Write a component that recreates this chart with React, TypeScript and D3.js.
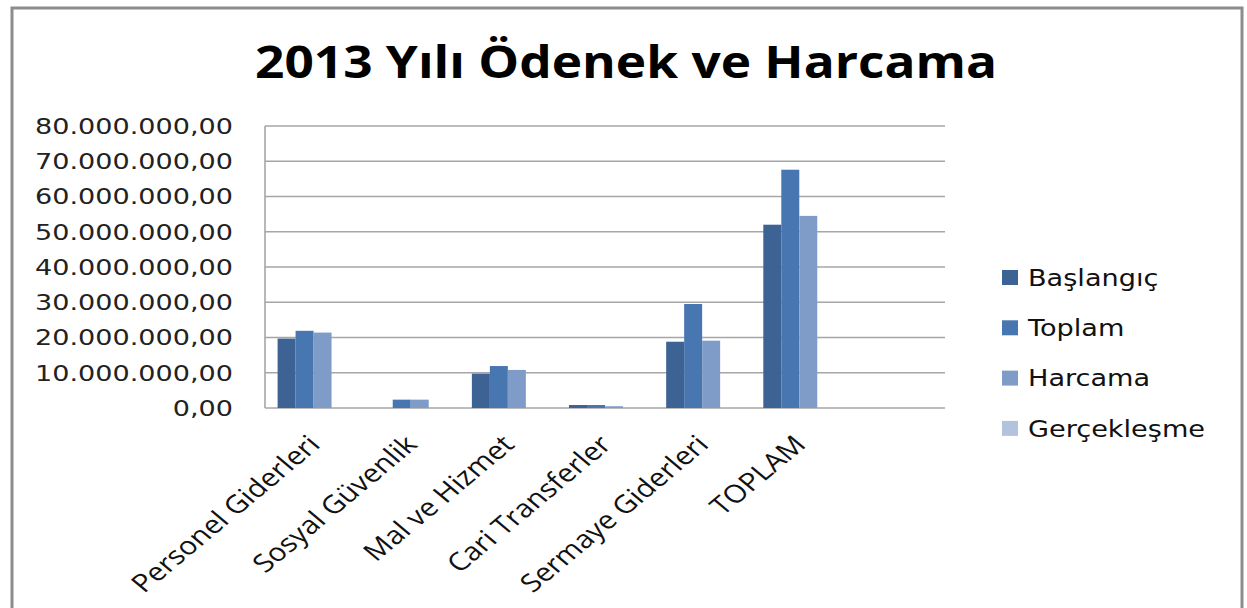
import React from "react";
import * as d3 from "d3";

const title = "2013 Yılı Ödenek ve Harcama";
const categories = [
  "Personel Giderleri",
  "Sosyal Güvenlik",
  "Mal ve Hizmet",
  "Cari Transferler",
  "Sermaye Giderleri",
  "TOPLAM",
];
const seriesNames = ["Başlangıç", "Toplam", "Harcama", "Gerçekleşme"];
const baslangic = [19700000, 0, 9750000, 850000, 18800000, 52000000];
const toplam = [21900000, 2370000, 11900000, 850000, 29500000, 67600000];
const harcama = [21400000, 2370000, 10800000, 500000, 19100000, 54500000];
const gerceklesme = [97.7, 100, 90.8, 58.8, 64.7, 80.6];
const yTicks = [0, 10000000, 20000000, 30000000, 40000000, 50000000, 60000000, 70000000, 80000000];
const colors = ["#3D6394", "#4876B0", "#7F9CC8", "#B3C3DE"];

const seriesValues = [baslangic, toplam, harcama, gerceklesme];

const W = 1247;
const H = 608;
const plot = { left: 265, right: 945, top: 126, bottom: 408 };

const trLocale = d3.formatLocale({
  decimal: ",",
  thousands: ".",
  grouping: [3],
  currency: ["", ""],
});
const fmt = trLocale.format(",.2f");

export default function App() {
  const slots = [...categories, ""];
  const x0 = d3.scaleBand<string>().domain(slots).range([plot.left, plot.right]).padding(0);
  const x1 = d3
    .scaleBand<string>()
    .domain(seriesNames)
    .range([0, x0.bandwidth()])
    .paddingInner(0)
    .paddingOuter(0.7);
  const y = d3.scaleLinear().domain([0, 80000000]).range([plot.bottom, plot.top]);

  return (
    <svg
      width={W}
      height={H}
      style={{ position: "absolute", left: 0, top: 0, background: "#fff" }}
    >
      <rect x={0} y={0} width={W} height={H} fill="#fff" />
      <rect x={12} y={8} width={1230} height={640} fill="#fff" stroke="#8c8c8c" strokeWidth={3} />

      <text
        x={626}
        y={78}
        textAnchor="middle"
        fontFamily="'Open Sans', sans-serif"
        fontWeight={700}
        fontSize={44}
        textLength={742}
        lengthAdjust="spacingAndGlyphs"
        fill="#000"
      >
        {title}
      </text>

      {/* gridlines */}
      {yTicks.map((t) => (
        <line
          key={"g" + t}
          x1={plot.left}
          x2={plot.right}
          y1={y(t)}
          y2={y(t)}
          stroke="#a6a6a6"
          strokeWidth={1.6}
        />
      ))}
      <line x1={plot.left} x2={plot.left} y1={plot.top} y2={plot.bottom} stroke="#a6a6a6" strokeWidth={1.6} />

      {/* y labels */}
      {yTicks.map((t) => (
        <g key={"yl" + t} transform={`translate(233,${y(t)}) scale(1.23,1)`}>
          <text
            x={0}
            y={0}
            dy="0.36em"
            textAnchor="end"
            fontFamily="'DejaVu Sans', sans-serif"
            fontSize={22}
            fill="#222"
          >
            {fmt(t)}
          </text>
        </g>
      ))}

      {/* bars */}
      {categories.map((c, ci) => (
        <g key={c} transform={`translate(${x0(c)},0)`}>
          {seriesNames.map((s, si) => {
            const v = seriesValues[si][ci];
            return (
              <rect
                key={s}
                x={x1(s)}
                y={y(v)}
                width={x1.bandwidth()}
                height={plot.bottom - y(v)}
                fill={colors[si]}
              />
            );
          })}
        </g>
      ))}

      {/* category labels */}
      {categories.map((c) => {
        const cx = (x0(c) as number) + x0.bandwidth() / 2 + 8;
        return (
          <g key={"cl" + c} transform={`translate(${cx},446) scale(1.2,1) rotate(-45)`}>
            <text
              x={0}
              y={0}
              textAnchor="end"
              fontFamily="'Open Sans', sans-serif"
              fontSize={25}
              fill="#111"
            >
              {c}
            </text>
          </g>
        );
      })}

      {/* legend */}
      {seriesNames.map((s, i) => {
        const cy = 277.5 + i * 50.3;
        return (
          <g key={"lg" + s}>
            <rect x={1002} y={cy - 7.5} width={16} height={15} fill={colors[i]} />
            <g transform={`translate(1028,${cy}) scale(1.18,1)`}>
              <text
                x={0}
                y={0}
                dy="0.36em"
                fontFamily="'DejaVu Sans', sans-serif"
                fontSize={23}
                fill="#111"
              >
                {s}
              </text>
            </g>
          </g>
        );
      })}
    </svg>
  );
}
